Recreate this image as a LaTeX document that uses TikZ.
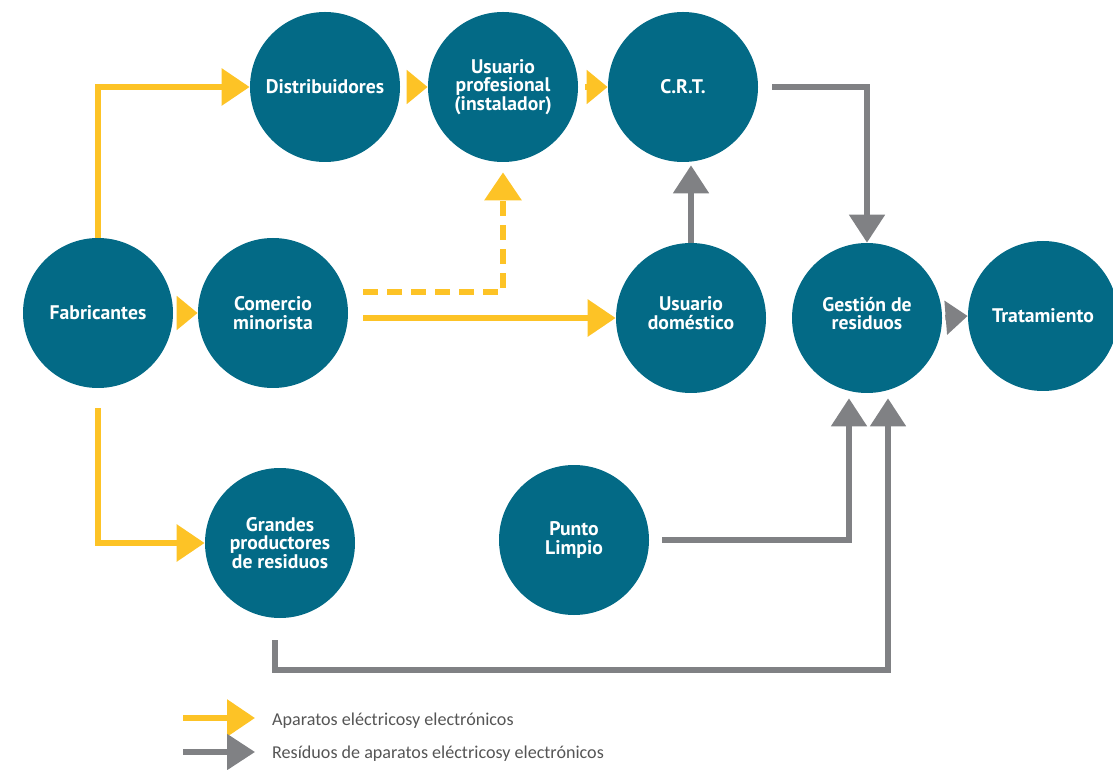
\documentclass[tikz,border=0pt]{standalone}
\usepackage{fontspec}
\setmainfont{PT Sans}
\newfontfamily\legendfont{Carlito}
\usepackage{tikz}
\usetikzlibrary{arrows.meta}

\definecolor{teal}{HTML}{036A86}
\definecolor{amarillo}{HTML}{FDC326}
\definecolor{gris}{HTML}{808184}
\definecolor{textogris}{HTML}{555555}

\begin{document}
\begin{tikzpicture}[
    circulo/.style={circle, fill=teal, text=white, minimum size=3cm, inner sep=0pt,
        align=center, font=\bfseries\fontsize{11.2}{10.5}\selectfont},
    yflecha/.style={draw=amarillo, line width=3.4pt, -{Triangle[length=0.56cm, width=0.72cm]}},
    ypunta/.style={draw=amarillo, line width=3.4pt, -{Triangle[length=0.42cm, width=0.66cm]}},
    gflecha/.style={draw=gris, line width=3pt, -{Triangle[length=0.56cm, width=0.7cm]}},
    gpunta/.style={draw=gris, line width=3pt, -{Triangle[length=0.44cm, width=0.66cm]}},
    leyenda/.style={anchor=west, text=textogris, font=\legendfont\fontsize{10.3}{12}\selectfont}
]
\useasboundingbox (0,0) rectangle (22.26,15.38);

\node[circulo] (fab) at (1.96,9.12) {Fabricantes};
\node[circulo] (com) at (5.46,9.12) {Comercio\\minorista};
\node[circulo] (dist) at (6.5,13.64) {Distribuidores};
\node[circulo] (upro) at (10.06,13.64) {Usuario\\profesional\\(instalador)};
\node[circulo] (crt) at (13.66,13.64) {C.R.T.};
\node[circulo] (udom) at (13.82,9.02) {Usuario\\doméstico\\[-5pt]};
\node[circulo] (ges) at (17.34,9.02) {Gestión de\\residuos\\[-5pt]};
\node[circulo] (trat) at (20.86,9.06) {Tratamiento};
\node[circulo] (gran) at (5.6,4.52) {Grandes\\productores\\de residuos};
\node[circulo] (punto) at (11.48,4.58) {Punto\\Limpio};

% aparatos
\draw[yflecha] (fab.north) |- (dist.west);
\draw[ypunta, shorten <=0.14cm] (dist.east) -- (upro.west);
\draw[ypunta, shorten <=0.14cm] (upro.east) -- (crt.west);
\draw[ypunta, shorten <=0.14cm] (fab.east) -- (com.west);
\draw[yflecha, shorten <=0.3cm] (com.east |- udom.west) -- (udom.west);
\draw[yflecha, dash pattern=on 0.3cm off 0.18cm, shorten <=0.3cm, shorten >=0.2cm]
    ([yshift=0.42cm]com.east) -| (upro.south);
\draw[yflecha, shorten <=0.4cm] (fab.south) |- (gran.west);

% residuos
\draw[gflecha, shorten <=0.28cm] (crt.east) -| (ges.north);
\draw[gflecha, shorten >=0.06cm] (udom.north) -- (udom.north |- crt.south);
\draw[gpunta, shorten <=0.06cm] (ges.east) -- (trat.west);
\draw[gflecha, shorten <=0.26cm, shorten >=0.1cm] (punto.east) -| ([xshift=-0.36cm]ges.south);
\coordinate (abajo) at (5.5,1.98);
\draw[gflecha, shorten <=0.44cm, shorten >=0.1cm]
    (gran.south -| abajo) -- (abajo) -| ([xshift=0.42cm]ges.south);

% leyenda
\coordinate (ya) at (3.66,1.02);
\coordinate (yb) at (5.1,1.02);
\coordinate (ga) at (3.66,0.34);
\coordinate (gb) at (5.1,0.34);
\draw[yflecha] (ya) -- (yb);
\draw[gflecha] (ga) -- (gb);
\node[leyenda] (ltxt1) at (5.32,0.96) {Aparatos eléctricosy electrónicos};
\node[leyenda] (ltxt2) at (5.32,0.30) {Resíduos de aparatos eléctricosy electrónicos};
\end{tikzpicture}
\end{document}
